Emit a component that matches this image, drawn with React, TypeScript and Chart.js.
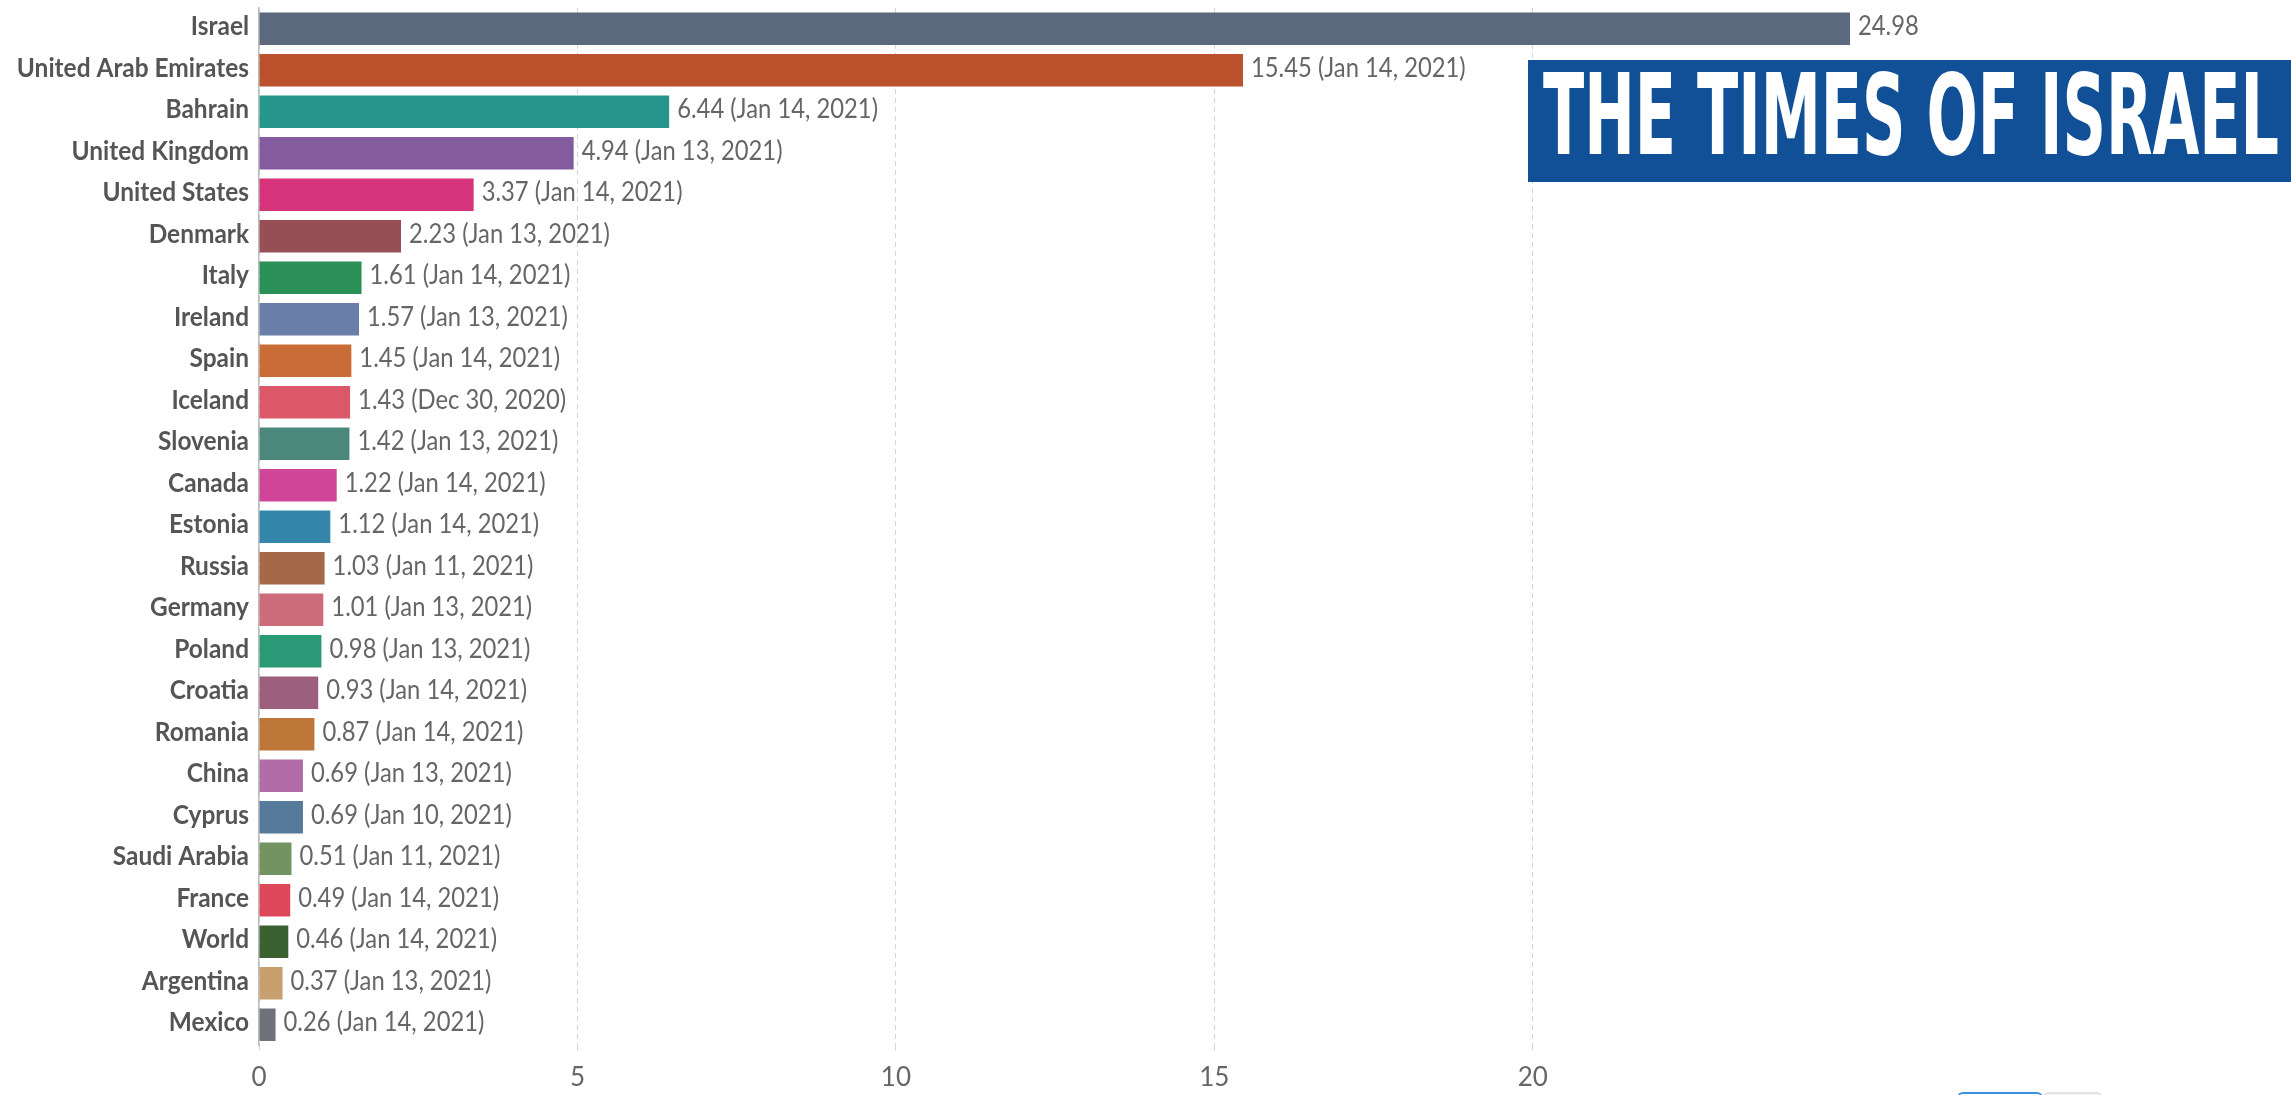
import React, { useEffect, useRef } from "react";
import { Chart, registerables } from "chart.js";

Chart.register(...registerables);

const countries = [
  "Israel",
  "United Arab Emirates",
  "Bahrain",
  "United Kingdom",
  "United States",
  "Denmark",
  "Italy",
  "Ireland",
  "Spain",
  "Iceland",
  "Slovenia",
  "Canada",
  "Estonia",
  "Russia",
  "Germany",
  "Poland",
  "Croatia",
  "Romania",
  "China",
  "Cyprus",
  "Saudi Arabia",
  "France",
  "World",
  "Argentina",
  "Mexico",
];

const values = [
  24.98, 15.45, 6.44, 4.94, 3.37, 2.23, 1.61, 1.57, 1.45, 1.43, 1.42, 1.22, 1.12,
  1.03, 1.01, 0.98, 0.93, 0.87, 0.69, 0.69, 0.51, 0.49, 0.46, 0.37, 0.26,
];

const dates = [
  "",
  "Jan 14, 2021",
  "Jan 14, 2021",
  "Jan 13, 2021",
  "Jan 14, 2021",
  "Jan 13, 2021",
  "Jan 14, 2021",
  "Jan 13, 2021",
  "Jan 14, 2021",
  "Dec 30, 2020",
  "Jan 13, 2021",
  "Jan 14, 2021",
  "Jan 14, 2021",
  "Jan 11, 2021",
  "Jan 13, 2021",
  "Jan 13, 2021",
  "Jan 14, 2021",
  "Jan 14, 2021",
  "Jan 13, 2021",
  "Jan 10, 2021",
  "Jan 11, 2021",
  "Jan 14, 2021",
  "Jan 14, 2021",
  "Jan 13, 2021",
  "Jan 14, 2021",
];

const colors = [
  "#5b687e",
  "#bc522d",
  "#26968d",
  "#845b9f",
  "#d6337a",
  "#964f54",
  "#2b8f58",
  "#6a7fa8",
  "#c96c37",
  "#da5868",
  "#4b877b",
  "#d14598",
  "#3486ab",
  "#a5694a",
  "#cd6b7b",
  "#2a9a76",
  "#9c5f7d",
  "#bf7739",
  "#b16ca8",
  "#567b9a",
  "#739363",
  "#dd4759",
  "#3b6131",
  "#c8a06f",
  "#6f727a",
];

const xTickValues = [0, 5, 10, 15, 20];
const xMax = 24.98;

// Draws the country names (from the y scale) and the value labels (from the bars).
const labelPlugin = {
  id: "barLabels",
  afterDatasetsDraw(chart: any) {
    const ctx = chart.ctx;
    const meta = chart.getDatasetMeta(0);
    const yScale = chart.scales.y;

    // value labels
    const sxV = 0.915;
    ctx.save();
    ctx.font = "26px Lato";
    ctx.fillStyle = "#666666";
    ctx.textAlign = "left";
    ctx.textBaseline = "alphabetic";
    ctx.scale(sxV, 1);
    meta.data.forEach((bar: any, i: number) => {
      const d = dates[i];
      const txt = values[i].toFixed(2) + (d ? ` (${d})` : "");
      ctx.fillText(txt, (bar.x + 8) / sxV, bar.y + 6.5);
    });
    ctx.restore();

    // category labels
    const sxC = 0.94;
    ctx.save();
    ctx.font = "bold 26px Lato";
    ctx.fillStyle = "#555555";
    ctx.textAlign = "right";
    ctx.textBaseline = "alphabetic";
    ctx.scale(sxC, 1);
    countries.forEach((name, i) => {
      const y = yScale.getPixelForValue(i);
      ctx.fillText(name, (yScale.right - 10) / sxC, y + 6.5);
    });
    ctx.restore();
  },
};

function TimesLogo() {
  return (
    <div
      style={{
        position: "absolute",
        left: 1528,
        top: 60,
        width: 763,
        height: 122,
        background: "#114f96",
      }}
    >
      <svg width={763} height={122} style={{ display: "block" }}>
        <text
          x={15}
          y={94}
          fill="#ffffff"
          fontFamily="'DejaVu Sans Condensed', 'DejaVu Sans', sans-serif"
          fontWeight="bold"
          fontSize={112}
          textLength={736}
          lengthAdjust="spacingAndGlyphs"
        >
          THE TIMES OF ISRAEL
        </text>
      </svg>
    </div>
  );
}

export default function App() {
  const canvasRef = useRef<HTMLCanvasElement | null>(null);

  useEffect(() => {
    if (!canvasRef.current) return;
    const chart = new Chart(canvasRef.current, {
      type: "bar",
      data: {
        labels: countries,
        datasets: [
          {
            data: values,
            backgroundColor: colors,
            borderWidth: 0,
            barPercentage: 0.785,
            categoryPercentage: 1,
          },
        ],
      },
      options: {
        indexAxis: "y",
        responsive: false,
        animation: false,
        devicePixelRatio: 1,
        layout: { padding: { left: 0, right: 441, top: 8, bottom: 0 } },
        plugins: {
          legend: { display: false },
          tooltip: { enabled: false },
        },
        scales: {
          x: {
            type: "linear",
            position: "bottom",
            min: 0,
            max: xMax,
            afterBuildTicks: (scale: any) => {
              scale.ticks = xTickValues.map((v) => ({ value: v }));
            },
            afterFit: (scale: any) => {
              scale.height = 49.5;
              scale.paddingLeft = 0;
              scale.paddingRight = 0;
            },
            grid: {
              color: "#d4d4d4",
              lineWidth: 1,
              drawTicks: true,
              tickLength: 5,
              tickColor: "#d4d4d4",
              tickBorderDash: [5, 4],
            },
            border: { display: false, dash: [5, 4] },
            ticks: {
              padding: 12,
              color: "#666666",
              font: { family: "Lato", size: 26 },
              maxRotation: 0,
              autoSkip: false,
            },
          },
          y: {
            type: "category",
            afterFit: (scale: any) => {
              scale.width = 259;
              scale.paddingTop = 0;
              scale.paddingBottom = 0;
            },
            grid: { display: false, drawTicks: false },
            border: { display: true, color: "#bbbbbb", width: 1.5 },
            ticks: { display: false },
          },
        },
      },
      plugins: [labelPlugin],
    } as any);
    return () => chart.destroy();
  }, []);

  return (
    <div
      style={{
        position: "fixed",
        left: 0,
        top: 0,
        width: 2291,
        height: 1095,
        overflow: "hidden",
        background: "#ffffff",
      }}
    >
      <canvas
        ref={canvasRef}
        width={2291}
        height={1095}
        style={{ position: "absolute", left: 0, top: 0, width: 2291, height: 1095 }}
      />
      <TimesLogo />
      <div
        style={{
          position: "absolute",
          left: 1957,
          top: 1092,
          width: 86,
          height: 30,
          border: "2px solid #3b8fe0",
          borderRadius: 6,
          boxSizing: "border-box",
          background: "#ffffff",
        }}
      />
      <div
        style={{
          position: "absolute",
          left: 2043,
          top: 1092,
          width: 60,
          height: 30,
          border: "2px solid #e2e2e2",
          borderRadius: 6,
          boxSizing: "border-box",
          background: "#f4f4f4",
        }}
      />
    </div>
  );
}
